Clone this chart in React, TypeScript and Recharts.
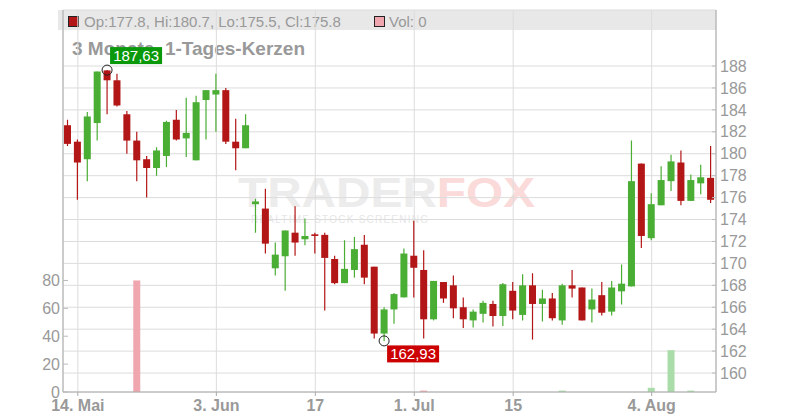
import React from 'react';
import { ComposedChart, Bar, XAxis, YAxis, CartesianGrid, Cell } from 'recharts';

const dates = [
  '13.05', '14.05', '15.05', '16.05', '19.05', '20.05', '21.05', '22.05', '23.05', '26.05', '27.05', '28.05', '29.05', '30.05',
  '02.06', '03.06', '04.06', '05.06', '06.06', '09.06', '10.06', '11.06', '12.06', '13.06', '16.06', '17.06', '18.06', '19.06',
  '20.06', '23.06', '24.06', '25.06', '26.06', '27.06', '30.06',
  '01.07', '02.07', '03.07', '04.07', '07.07', '08.07', '09.07', '10.07', '11.07', '14.07', '15.07', '16.07', '17.07', '18.07',
  '21.07', '22.07', '23.07', '24.07', '25.07', '28.07', '29.07', '30.07', '31.07',
  '01.08', '04.08', '05.08', '06.08', '07.08', '08.08', '11.08', '12.08',
];

const opens = [
  182.6, 181.1, 179.5, 182.8, 187.6, 186.7, 183.6, 181.2, 179.5, 178.7, 179.8, 183.1, 181.4, 179.4, 184.9, 185.4, 185.8, 181.1, 180.5,
  175.4, 175.0, 169.55, 170.65, 172.8, 172.2, 172.65, 172.6, 170.4, 168.2, 169.4, 171.7, 169.7, 163.6, 165.8, 166.9, 170.7, 169.4,
  164.9, 168.3, 168.0, 166.0, 164.8, 165.4, 166.3, 165.2, 167.5, 165.3, 168.0, 166.3, 166.8, 164.8, 168.0, 167.8, 165.8, 167.1,
  165.6, 167.45, 167.9, 179.1, 172.3, 175.3, 177.5, 179.2, 175.7, 177.3, 177.8,
];
const highs = [
  183.1, 181.3, 183.8, 187.5, 187.63, 187.3, 183.9, 182.0, 179.8, 180.6, 183.0, 184.0, 185.1, 185.3, 185.8, 187.3, 186.0, 183.2, 183.6,
  175.9, 176.8, 171.9, 173.0, 175.2, 174.1, 172.8, 172.8, 170.7, 172.1, 172.4, 172.6, 169.7, 166.0, 167.3, 171.35, 173.9, 171.2,
  168.4, 168.3, 168.9, 166.9, 165.8, 166.6, 166.6, 168.2, 168.3, 169.0, 169.1, 167.6, 167.3, 168.15, 169.4, 167.8, 167.7, 168.3,
  168.4, 169.9, 181.2, 179.1, 176.4, 178.85, 179.9, 180.3, 178.1, 179.0, 180.7,
];
const lows = [
  180.7, 175.8, 177.5, 181.2, 183.6, 184.3, 180.0, 177.5, 176.0, 178.0, 178.8, 181.2, 179.7, 179.4, 181.3, 182.0, 180.9, 178.5, 180.5,
  172.8, 170.9, 168.9, 167.5, 170.7, 171.65, 170.9, 165.7, 168.1, 168.2, 168.7, 168.1, 163.15, 162.93, 164.5, 166.9, 166.9, 163.15,
  164.8, 166.4, 165.0, 164.1, 164.15, 164.6, 164.25, 164.3, 164.9, 164.8, 163.05, 164.7, 164.8, 164.4, 166.9, 164.8, 164.6, 165.25,
  165.25, 166.25, 167.9, 171.4, 172.1, 175.3, 176.6, 175.3, 175.7, 176.3, 175.5,
];
const closes = [
  180.9, 179.2, 183.4, 187.5, 186.7, 184.4, 181.2, 179.4, 178.7, 180.3, 182.9, 181.3, 181.9, 184.7, 185.8, 185.8, 181.1, 180.5, 182.6,
  175.65, 171.8, 170.8, 173.0, 171.9, 172.5, 172.5, 170.5, 168.2, 169.5, 171.3, 168.7, 163.6, 165.8, 167.2, 170.9, 169.6, 164.9,
  168.4, 166.8, 165.9, 164.9, 165.6, 166.4, 165.2, 168.1, 165.7, 168.0, 166.3, 166.8, 165.0, 168.0, 167.7, 164.8, 166.7, 165.5,
  167.8, 168.15, 177.5, 172.5, 175.4, 177.6, 179.3, 175.7, 177.6, 177.85, 175.8,
];
const volumes = [
  0, 0, 0, 0, 0, 0, 0, 80, 0, 0, 0, 0, 0, 0, 0, 0, 0, 0, 0,
  0, 0, 0, 0, 0, 0, 0, 0, 0, 0, 0, 0, 0, 0, 0, 0, 0, 1,
  0, 0, 0, 0, 0, 0, 0, 0, 0, 0, 0, 0, 0, 1, 0, 0, 0, 0,
  0, 0, 0, 0, 3, 0, 30, 0, 1, 0, 0,
];

const tickDates = ['14.05', '03.06', '17.06', '01.07', '15.07', '04.08'];
const tickLabels = ['14. Mai', '3. Jun', '17', '1. Jul', '15', '4. Aug'];
const priceTicks = [160, 162, 164, 166, 168, 170, 172, 174, 176, 178, 180, 182, 184, 186, 188];
const volTicks = [0, 20, 40, 60, 80];
const legendText = 'Op:177.8, Hi:180.7, Lo:175.5, Cl:175.8';
const volText = 'Vol: 0';
const titleText = '3 Monate, 1-Tages-Kerzen';

const RED = '#b31616';
const GREEN = '#4aad34';
const VOL_RED = '#efa6ae';
const VOL_GREEN = '#a9dca9';
const GRID = '#dcdcdc';
const AXIS = '#aaaaaa';
const TXT = '#999999';
const FONT = '"Liberation Sans", Arial, Helvetica, sans-serif';

const data = dates.map((d, i) => ({
  date: d,
  range: [lows[i], highs[i]],
  open: opens[i],
  high: highs[i],
  low: lows[i],
  close: closes[i],
  vol: volumes[i],
}));

const MAX_HIGH = Math.max(...highs);
const MIN_LOW = Math.min(...lows);
const fmt = (v: number) => v.toFixed(2).replace('.', ',');

const Candle = (props: any) => {
  const { x, y, width, height, payload } = props;
  if (x == null || y == null || !payload) return null;
  const { open, close, high, low } = payload;
  const up = close >= open;
  const color = up ? GREEN : RED;
  const span = high - low;
  const sc = (v: number) => (span === 0 ? y : y + ((high - v) / span) * height);
  const cx = x + width / 2;
  const top = sc(Math.max(open, close));
  const bot = sc(Math.min(open, close));
  const yHigh = y;
  const yLow = y + height;
  return (
    <g>
      <line x1={cx} x2={cx} y1={yHigh} y2={yLow} stroke={color} strokeWidth={1.2} />
      <rect x={x} y={top} width={width} height={Math.max(1.5, bot - top)} fill={color} />
      {high === MAX_HIGH && (
        <g>
          <circle cx={cx} cy={yHigh} r={5} fill="none" stroke="#222" strokeWidth={1} />
          <rect x={cx + 3} y={yHigh - 23} width={52} height={17} fill="#0a990a" />
          <text x={cx + 29} y={yHigh - 9.5} textAnchor="middle" fill="#fff" fontSize={15} fontFamily={FONT}>
            {fmt(high)}
          </text>
        </g>
      )}
      {low === MIN_LOW && (
        <g>
          <circle cx={cx} cy={yLow} r={5} fill="none" stroke="#222" strokeWidth={1} />
          <rect x={cx + 3} y={yLow + 4.5} width={52} height={17} fill="#cc0000" />
          <text x={cx + 29} y={yLow + 18} textAnchor="middle" fill="#fff" fontSize={15} fontFamily={FONT}>
            {fmt(low)}
          </text>
        </g>
      )}
    </g>
  );
};

const PriceTick = (p: any) => (
  <g>
    <line x1={p.x - 8} x2={p.x - 4} y1={p.y} y2={p.y} stroke="#bbb" />
    <text x={p.x} y={p.y} dy="0.355em" textAnchor="start" fill={TXT} fontSize={16} fontFamily={FONT}>
      {p.payload.value}
    </text>
  </g>
);

const VolTick = (p: any) => (
  <g>
    <line x1={p.x + 3} x2={p.x + 8} y1={p.y} y2={p.y} stroke="#bbb" />
    <text x={p.x} y={p.y} dy="0.355em" textAnchor="end" fill={TXT} fontSize={16} fontFamily={FONT}>
      {p.payload.value}
    </text>
  </g>
);

const xLabel = (v: string) => {
  const i = tickDates.indexOf(v);
  return i >= 0 ? tickLabels[i] : '';
};

export default function App() {
  return (
    <div style={{ position: 'absolute', left: 0, top: 0, width: 800, height: 420, background: '#fff' }}>
      <svg width={800} height={420} style={{ position: 'absolute', left: 0, top: 0 }}>
        <rect x={58} y={10} width={658} height={20} fill="#e8e8e8" />
        <rect x={68.5} y={16.5} width={10} height={10} fill={RED} stroke="#222" strokeWidth={1} />
        <text x={84} y={26.5} fill={TXT} fontSize={15} fontFamily={FONT}>{legendText}</text>
        <rect x={374.5} y={16.5} width={10} height={10} fill={VOL_RED} stroke="#222" strokeWidth={1} />
        <text x={389} y={26.5} fill={TXT} fontSize={15} fontFamily={FONT}>{volText}</text>
        <text x={72} y={54.5} fill={TXT} fontSize={19} fontWeight="bold" fontFamily={FONT}>{titleText}</text>
        <text x={238} y={207} fontSize={42} fontWeight="bold" fontFamily={FONT} textLength={297} lengthAdjust="spacingAndGlyphs">
          <tspan fill="#ececec">TRADER</tspan>
          <tspan fill="#fbdada">FOX</tspan>
        </text>
        <text x={251} y={223} fontSize={10} fill="#e6e6e6" fontFamily={FONT} textLength={177} lengthAdjust="spacing">
          REALTIME STOCK SCREENING
        </text>
      </svg>
      <div style={{ position: 'absolute', left: 0, top: 0 }}>
        <ComposedChart width={800} height={420} data={data} margin={{ top: 10, right: 24, bottom: 0, left: 8 }}>
          <CartesianGrid xAxisId="x" yAxisId="price" stroke={GRID} />
          <XAxis
            xAxisId="x"
            dataKey="date"
            type="category"
            ticks={tickDates}
            interval={0}
            tickFormatter={xLabel}
            height={28}
            tickSize={4}
            tickMargin={4}
            stroke={AXIS}
            tick={{ fill: TXT, fontSize: 16, fontWeight: 'bold', fontFamily: FONT }}
          />
          <XAxis xAxisId="x2" dataKey="date" type="category" hide />
          <YAxis
            yAxisId="price"
            orientation="right"
            domain={[158.27, 193.11]}
            allowDataOverflow
            ticks={priceTicks}
            interval={0}
            width={60}
            tickSize={0}
            tickMargin={4}
            stroke={AXIS}
            tick={<PriceTick />}
          />
          <YAxis
            yAxisId="vol"
            orientation="left"
            domain={[0, 274]}
            allowDataOverflow
            ticks={volTicks}
            interval={0}
            width={55}
            tickSize={0}
            tickMargin={3}
            stroke={AXIS}
            tick={<VolTick />}
          />
          <Bar xAxisId="x2" yAxisId="vol" dataKey="vol" barSize={7} isAnimationActive={false}>
            {data.map((d, i) => (
              <Cell key={i} fill={d.close >= d.open ? VOL_GREEN : VOL_RED} />
            ))}
          </Bar>
          <Bar xAxisId="x" yAxisId="price" dataKey="range" barSize={7} shape={<Candle />} isAnimationActive={false} />
        </ComposedChart>
      </div>
    </div>
  );
}
